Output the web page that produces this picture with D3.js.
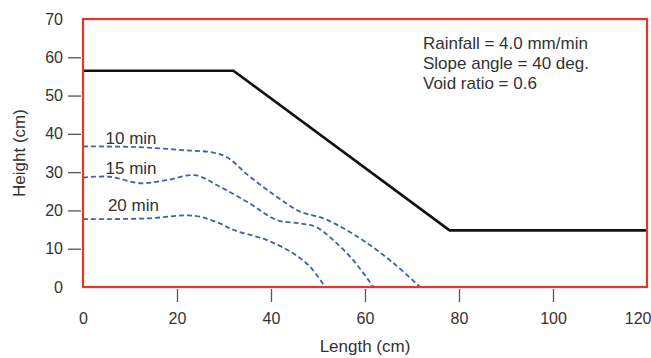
<!DOCTYPE html>
<html>
<head>
<meta charset="utf-8">
<script src="https://cdn.jsdelivr.net/npm/d3@7"></script>
<style>
  html, body { margin: 0; padding: 0; background: #fff; }
  svg { display: block; font-family: "Liberation Sans", Arial, Helvetica, sans-serif; }
</style>
</head>
<body>
<svg id="chart" width="651" height="358"></svg>
<script>
// Slope profile (Length cm, Height cm)
const slopeX = [0, 32, 78, 120];
const slopeY = [56.5, 56.5, 14.8, 14.8];

// Wetting-front / saturation lines at elapsed times
const front10X = [0, 10, 20.6, 29.8, 35.5, 41.2, 46.2, 51, 55.3, 60.4, 66, 71.7];
const front10Y = [36.7, 36.6, 35.8, 34.4, 28.8, 23.6, 19.7, 18, 15.4, 11.5, 6.3, 0];
const front15X = [0, 5.7, 12.1, 17.8, 23.8, 29.1, 35.5, 41.2, 46.2, 49.7, 53.2, 57.5, 61.8];
const front15Y = [28.6, 28.8, 27.1, 27.9, 29.2, 26.2, 21.8, 17.5, 16.6, 15.6, 12.3, 7, 0];
const front20X = [0, 13.5, 23.8, 29.1, 32, 39, 44.7, 48.3, 51.5];
const front20Y = [17.7, 17.9, 18.6, 16.6, 14.9, 12.3, 8.8, 5.3, 0];

const frontLabels = ["10 min", "15 min", "20 min"];
const frontLabelX = [4.8, 4.8, 5.3];
const frontLabelY = [39, 31, 21.5];

const xTicks = [0, 20, 40, 60, 80, 100, 120];
const yTicks = [0, 10, 20, 30, 40, 50, 60, 70];
const notes = ["Rainfall = 4.0 mm/min", "Slope angle = 40 deg.", "Void ratio = 0.6"];

const svg = d3.select("#chart");
const margin = { left: 83, right: 4, top: 19, bottom: 71 };
const W = 651, H = 358;
const x = d3.scaleLinear().domain([0, 120]).range([margin.left, W - margin.right]);
const y = d3.scaleLinear().domain([0, 70]).range([H - margin.bottom, margin.top]);

const textColor = "#333";
const tickColor = "#555";
const numSize = "16px";
const labelSize = "17px";

// Y axis: labels for all ticks, tick marks only for inner values
const yAxis = d3.axisLeft(y).tickValues(yTicks).tickSize(0).tickPadding(20)
  .tickFormat(d3.format("d"));
const gy = svg.append("g").attr("transform", `translate(${x(0)},0)`).call(yAxis);
gy.select(".domain").remove();
gy.selectAll("text").attr("fill", textColor).style("font-size", numSize)
  .attr("font-family", "Liberation Sans, Arial, sans-serif");
gy.selectAll(".tick").filter(d => d > 0 && d < 70).append("line")
  .attr("x1", -15).attr("x2", -2).attr("stroke", tickColor).attr("stroke-width", 1.3);

// X axis
const xAxis = d3.axisBottom(x).tickValues(xTicks).tickSize(0).tickPadding(26)
  .tickFormat(d3.format("d"));
const gx = svg.append("g").attr("transform", `translate(0,${y(0)})`).call(xAxis);
gx.select(".domain").remove();
gx.selectAll("text").attr("fill", textColor).style("font-size", numSize)
  .attr("font-family", "Liberation Sans, Arial, sans-serif");
// keep the last label inside the drawing area
gx.selectAll(".tick").filter(d => d === 120).select("text")
  .attr("text-anchor", "end").attr("x", 4);
gx.selectAll(".tick").filter(d => d > 0 && d < 120).append("line")
  .attr("y1", 2).attr("y2", 15).attr("stroke", tickColor).attr("stroke-width", 1.3);

// Axis titles
svg.append("text").attr("x", (x(0) + x(120)) / 2).attr("y", 352)
  .attr("text-anchor", "middle").attr("fill", textColor).style("font-size", labelSize)
  .text("Length (cm)");
svg.append("text").attr("transform", `translate(25,${(y(0) + y(70)) / 2}) rotate(-90)`)
  .attr("text-anchor", "middle").attr("fill", textColor).style("font-size", labelSize)
  .text("Height (cm)");

// Slope outline
const line = d3.line().x(d => x(d[0])).y(d => y(d[1]));
svg.append("path").datum(d3.zip(slopeX, slopeY)).attr("d", line)
  .attr("fill", "none").attr("stroke", "#111").attr("stroke-width", 2.6)
  .attr("stroke-linejoin", "miter");

// Saturation fronts
const curve = d3.line().x(d => x(d[0])).y(d => y(d[1])).curve(d3.curveCatmullRom.alpha(0.5));
[[front10X, front10Y], [front15X, front15Y], [front20X, front20Y]].forEach(([xs, ys]) => {
  svg.append("path").datum(d3.zip(xs, ys)).attr("d", curve)
    .attr("fill", "none").attr("stroke", "#3d62a6").attr("stroke-width", 1.8)
    .attr("stroke-dasharray", "5,3");
});

frontLabels.forEach((t, i) => {
  svg.append("text").attr("x", x(frontLabelX[i])).attr("y", y(frontLabelY[i]))
    .attr("dy", "0.35em").attr("fill", textColor).style("font-size", labelSize).text(t);
});

// Test conditions
notes.forEach((t, i) => {
  svg.append("text").attr("x", 423).attr("y", 43 + i * 20).attr("dy", "0.35em")
    .attr("fill", textColor).style("font-size", labelSize).text(t);
});

// Plot frame
svg.append("rect").attr("x", x(0)).attr("y", y(70))
  .attr("width", x(120) - x(0)).attr("height", y(0) - y(70))
  .attr("fill", "none").attr("stroke", "#e8352b").attr("stroke-width", 2.2);
</script>
</body>
</html>
